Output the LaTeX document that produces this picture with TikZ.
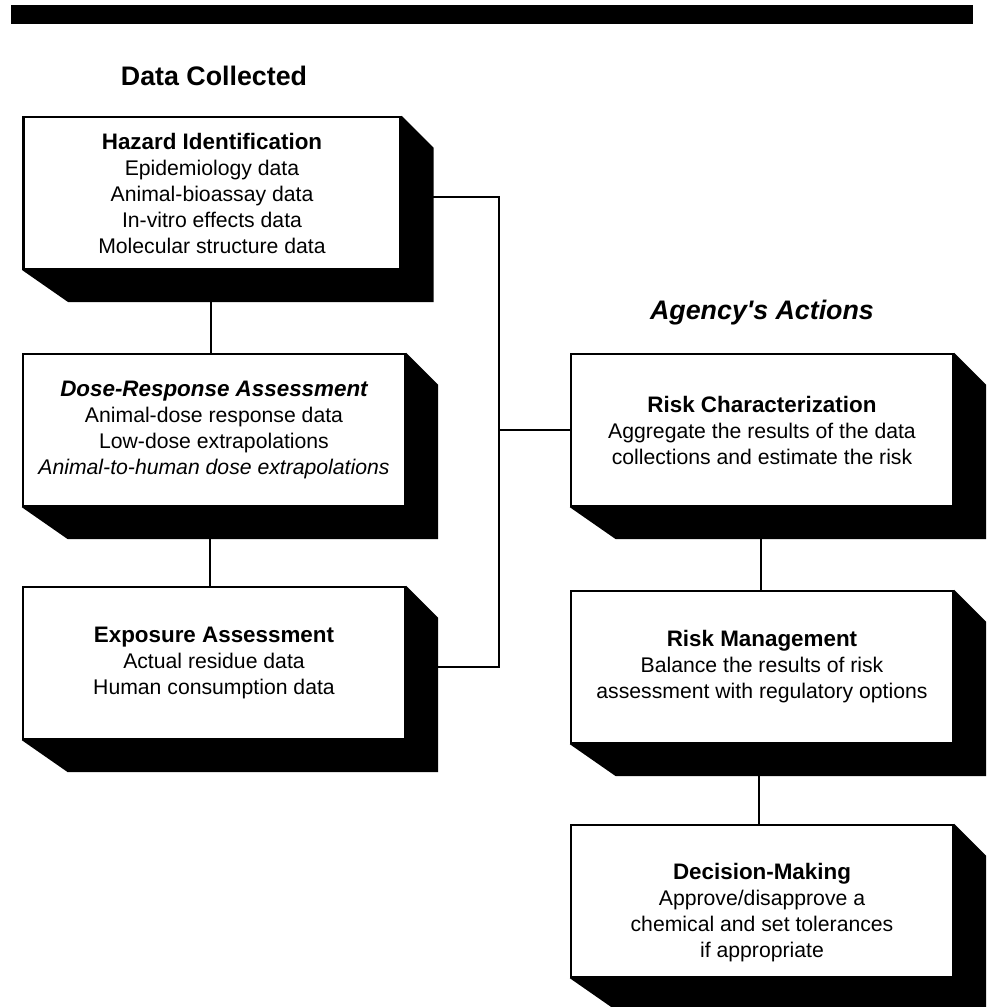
\documentclass[tikz,border=0pt]{standalone}
\usepackage{fontspec}
\setmainfont{Liberation Sans}
\newcommand{\boxhead}[1]{{\fontsize{11.2}{13}\selectfont\bfseries #1}}

\begin{document}
\begin{tikzpicture}[x=0.5pt, y=-0.5pt,
    stagebox/.style={draw, line width=1.2pt, fill=white, align=center,
        minimum width=191pt, minimum height=76pt, inner sep=2pt,
        font=\fontsize{10.6}{13}\selectfont},
    heading/.style={font=\fontsize{13.4}{16}\selectfont\bfseries},
    link/.style={line width=1.3pt}]
    \useasboundingbox (0,0) rectangle (986,1007);

    % top rule
    \fill (11,5) rectangle (973,24);

    % column headings
    \node[heading] (datahead) at (214,76) {Data Collected};
    \node[heading, font=\fontsize{13.4}{16}\selectfont\bfseries\itshape] (agencyhead) at (762,313) {Agency\textquotesingle s Actions};

    % data collected
    \node[stagebox, minimum width=188.5pt] (haz) at (212,193)
        {\boxhead{Hazard Identification}\\Epidemiology data\\Animal-bioassay data\\In-vitro effects data\\Molecular structure data};
    \node[stagebox] (dose) at (214,430)
        {\boxhead{\itshape Dose-Response Assessment}\\Animal-dose response data\\Low-dose extrapolations\\\textit{Animal-to-human dose extrapolations}};
    \node[stagebox] (expo) at (214,663)
        {\boxhead{Exposure Assessment}\\Actual residue data\\Human consumption data};

    % agency's actions
    \node[stagebox] (rc) at (762,430)
        {\boxhead{Risk Characterization}\\Aggregate the results of the data\\collections and estimate the risk};
    \node[stagebox] (rm) at (762,667)
        {\boxhead{Risk Management}\\Balance the results of risk\\assessment with regulatory options};
    \node[stagebox] (dm) at (762,901)
        {\rule{0pt}{20pt}\boxhead{Decision-Making}\\Approve/disapprove a\\chemical and set tolerances\\if appropriate};

    % shadows
    \foreach \n in {haz,dose,expo,rc,rm,dm}
        \fill (\n.north east) -- ++(32,32) -- ([shift={(32,32)}]\n.south east)
            -- ([shift={(46,32)}]\n.south west) -- (\n.south west)
            -- (\n.south east) -- cycle;

    % connectors
    \coordinate (bus) at (499,430);
    \draw[link] ([yshift=-2pt]haz.east) -| (bus) |- ([yshift=-2pt]expo.east);
    \draw[link] (bus) -- (rc.west);
    \draw[link] ([shift={(-1,32)}]haz.south) -- ([shift={(-1,0)}]haz.south |- dose.north);
    \draw[link] ([shift={(-4,32)}]dose.south) -- ([shift={(-4,0)}]dose.south |- expo.north);
    \draw[link] ([shift={(-1,32)}]rc.south) -- ([shift={(-1,0)}]rc.south |- rm.north);
    \draw[link] ([shift={(-3,32)}]rm.south) -- ([shift={(-3,0)}]rm.south |- dm.north);
\end{tikzpicture}
\end{document}
